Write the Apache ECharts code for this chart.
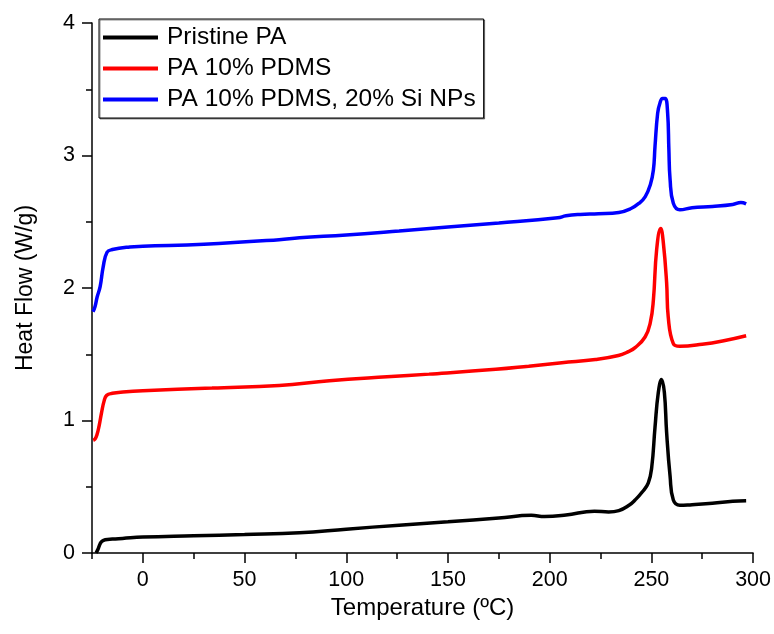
<!DOCTYPE html>
<html>
<head>
<meta charset="utf-8">
<script src="https://cdn.jsdelivr.net/npm/echarts@6/dist/echarts.min.js"></script>
<style>html,body{margin:0;padding:0;background:#fff}#c{width:774px;height:634px}</style>
</head>
<body>
<div id="c"></div>
<script>
const seriesNames = ['Pristine PA', 'PA 10% PDMS', 'PA 10% PDMS, 20% Si NPs'];
const xTickValues = [0, 50, 100, 150, 200, 250, 300];
const xMinorTickValues = [-25, 25, 75, 125, 175, 225, 275];

const pristineT = [-23, -22, -21, -20, -18.5, -15, -10, 0, 25, 50, 77, 100, 126, 150, 175, 191, 197.5, 208, 222, 229, 234, 239, 242, 245.5, 248.5, 250.2, 251.8, 253.4, 255, 256.4, 257.5, 259.2, 260.8, 264, 270, 280, 290, 296.6];
const pristineQ = [0.0, 0.03, 0.07, 0.09, 0.10, 0.105, 0.11, 0.12, 0.13, 0.14, 0.153, 0.18, 0.21, 0.235, 0.264, 0.284, 0.276, 0.287, 0.315, 0.31, 0.32, 0.36, 0.40, 0.46, 0.53, 0.65, 0.95, 1.21, 1.31, 1.21, 0.91, 0.58, 0.40, 0.36, 0.365, 0.375, 0.39, 0.395];

const pdmsT = [-24.4, -23.5, -22.6, -21.5, -20.3, -19, -17.8, -15, -9.8, 0, 34, 67, 91.7, 120, 140.7, 173.5, 189.7, 206, 222.5, 233.8, 238.7, 242, 246.9, 249.5, 251, 252.6, 254.6, 255.9, 257.5, 258.3, 260.8, 264, 275, 285, 296.6];
const pdmsQ = [0.85, 0.86, 0.89, 0.96, 1.06, 1.15, 1.19, 1.205, 1.215, 1.225, 1.245, 1.265, 1.30, 1.33, 1.35, 1.386, 1.41, 1.436, 1.46, 1.49, 1.52, 1.55, 1.63, 1.74, 1.91, 2.29, 2.45, 2.34, 2.04, 1.78, 1.58, 1.56, 1.575, 1.60, 1.64];

const siT = [-24.5, -23.5, -22.5, -21, -19.5, -17.6, -15, -6.4, 0, 30, 67, 77, 100, 126, 150, 175, 204, 208, 215, 224, 234, 240, 244, 247, 249.5, 251, 251.8, 253.1, 254.3, 255.5, 256.8, 258, 258.6, 259.2, 260.8, 264, 270, 280, 290, 294, 296.6];
const siQ = [1.82, 1.86, 1.93, 2.01, 2.16, 2.27, 2.29, 2.31, 2.315, 2.33, 2.365, 2.38, 2.40, 2.43, 2.46, 2.49, 2.53, 2.545, 2.555, 2.56, 2.57, 2.60, 2.64, 2.69, 2.78, 2.89, 3.07, 3.32, 3.40, 3.43, 3.43, 3.32, 3.05, 2.82, 2.64, 2.59, 2.605, 2.615, 2.63, 2.645, 2.635];

const colors = ['#000000', '#ff0000', '#0000ff'];
const FONT = '"Liberation Sans", Arial, sans-serif';

function pairs(t, q) { return t.map((v, i) => [v, q[i]]); }

const chart = echarts.init(document.getElementById('c'), null, {renderer: 'canvas'});
const axisLineStyle = {color: '#000', width: 1.5};
chart.setOption({
  animation: false,
  backgroundColor: '#fff',
  grid: {left: 92, right: 19, top: 23, bottom: 81, containLabel: false},
  legend: {
    orient: 'vertical',
    left: 99, top: 19,
    padding: [6, 8, 6, 4],
    itemGap: 6,
    itemWidth: 55,
    itemHeight: 4,
    icon: 'rect',
    borderColor: '#000',
    borderWidth: 1,
    shadowColor: 'rgba(0,0,0,0.45)',
    shadowOffsetX: 1,
    shadowOffsetY: 1,
    backgroundColor: '#fff',
    textStyle: {fontFamily: FONT, fontSize: 24.5, color: '#000', lineHeight: 24, padding: [0, 0, 0, 4]},
    data: seriesNames
  },
  xAxis: [{
    type: 'value', min: -25, max: 300, position: 'bottom',
    name: 'Temperature (\u00baC)', nameLocation: 'middle', nameGap: 41,
    nameTextStyle: {fontFamily: FONT, fontSize: 24, color: '#000'},
    axisLine: {show: true, onZero: false, lineStyle: axisLineStyle},
    axisTick: {show: true, inside: false, length: 10, lineStyle: axisLineStyle, customValues: xTickValues},
    axisLabel: {fontFamily: FONT, fontSize: 21.5, color: '#000', margin: 16, customValues: xTickValues},
    splitLine: {show: false}
  }, {
    type: 'value', min: -25, max: 300, position: 'bottom', offset: 0,
    axisLine: {show: false},
    axisTick: {show: true, inside: false, length: 6, lineStyle: axisLineStyle, customValues: xMinorTickValues},
    axisLabel: {show: false},
    splitLine: {show: false}
  }],
  yAxis: {
    type: 'value', min: 0, max: 4, interval: 1,
    name: 'Heat Flow (W/g)', nameLocation: 'middle', nameGap: 55,
    nameTextStyle: {fontFamily: FONT, fontSize: 23, color: '#000'},
    axisLine: {show: true, onZero: false, lineStyle: axisLineStyle},
    axisTick: {show: true, inside: false, length: 10, lineStyle: axisLineStyle},
    minorTick: {show: true, splitNumber: 2, length: 6, lineStyle: axisLineStyle},
    axisLabel: {fontFamily: FONT, fontSize: 21.5, color: '#000', margin: 17},
    splitLine: {show: false},
    minorSplitLine: {show: false}
  },
  series: [
    {name: seriesNames[0], type: 'line', xAxisIndex: 0, data: pairs(pristineT, pristineQ), showSymbol: false, smooth: 0.45, color: colors[0], lineStyle: {width: 3.5, color: colors[0]}},
    {name: seriesNames[1], type: 'line', xAxisIndex: 0, data: pairs(pdmsT, pdmsQ), showSymbol: false, smooth: 0.45, color: colors[1], lineStyle: {width: 3.5, color: colors[1]}},
    {name: seriesNames[2], type: 'line', xAxisIndex: 0, data: pairs(siT, siQ), showSymbol: false, smooth: 0.45, color: colors[2], lineStyle: {width: 3.5, color: colors[2]}}
  ]
});
</script>
</body>
</html>
